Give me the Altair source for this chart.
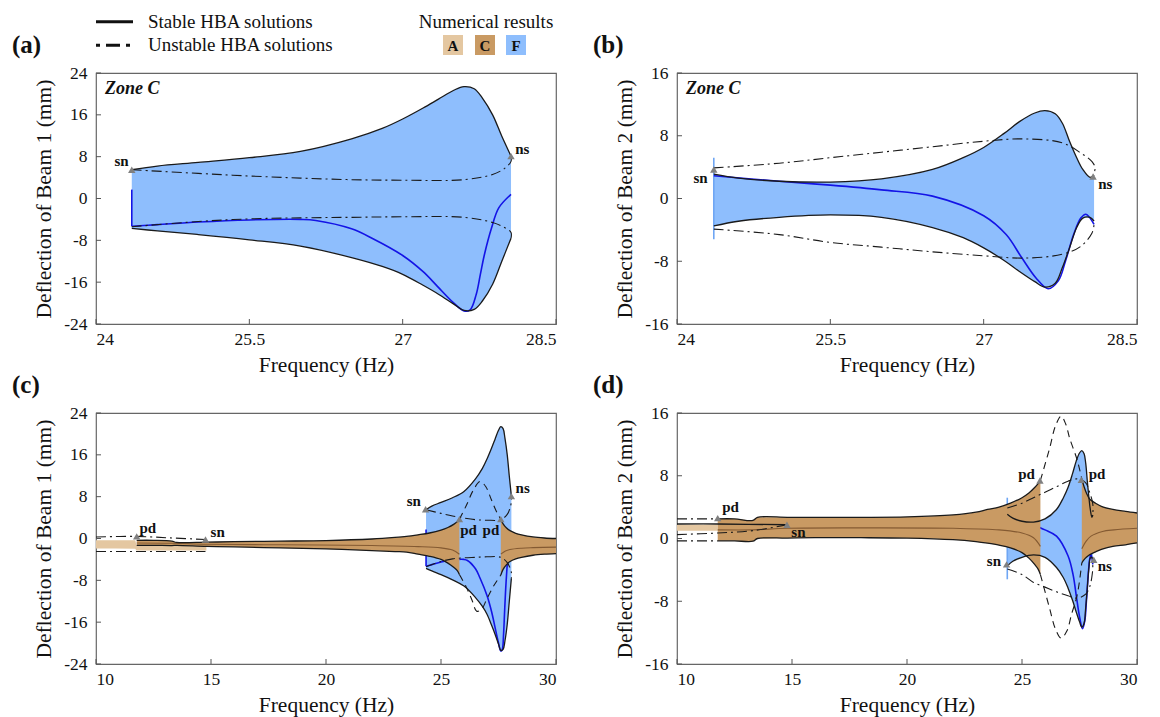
import altair as alt
import pandas as pd

# ---------------------------------------------------------------- data
# Beam 1, zone C (panels a and c): stable HBA envelope (upper / lower)
B1_F = [24.35, 24.6, 25.0, 25.5, 26.0, 26.5, 26.8, 27.0, 27.2, 27.35, 27.5, 27.6, 27.7, 27.78, 27.88, 27.97, 28.06]
B1_UP = [5.5, 6.2, 6.9, 7.8, 9.0, 11.4, 13.4, 15.2, 17.3, 19.0, 20.7, 21.4, 21.0, 19.2, 16.0, 11.9, 8.1]
B1_LO = [-5.7, -6.2, -6.9, -7.9, -9.1, -11.3, -13.0, -14.5, -16.6, -18.3, -20.2, -21.4, -21.2, -19.6, -16.4, -12.0, -7.6]
# Beam 1 unstable HBA branches (zone C)
B1_UU_F = [24.35, 25.0, 25.5, 26.0, 26.5, 27.0, 27.6, 27.88, 28.0, 28.06, 28.06]
B1_UU_V = [5.5, 4.8, 4.3, 3.9, 3.6, 3.5, 3.6, 4.6, 5.8, 7.1, 8.1]
B1_UL_F = [24.35, 25.0, 25.5, 26.0, 26.5, 27.0, 27.6, 27.88, 28.0, 28.06, 28.06]
B1_UL_V = [-5.4, -4.4, -3.9, -3.7, -3.6, -3.5, -3.6, -4.6, -5.6, -6.5, -7.6]
# Beam 1 numerical (blue) mean line and its start transient
B1_N_F = [24.35, 24.6, 25.0, 25.5, 26.0, 26.15, 26.5, 26.7, 27.0, 27.2, 27.34, 27.49, 27.6, 27.66, 27.72, 27.76, 27.8, 27.87, 27.94, 28.06]
B1_N_V = [-5.3, -5.0, -4.5, -4.1, -4.0, -4.2, -5.8, -7.6, -10.9, -14.0, -16.8, -19.8, -21.5, -21.3, -18.3, -14.5, -10.7, -5.6, -1.8, 0.8]
B1_T_F = [24.35, 24.35]
B1_T_V = [1.7, -5.3]

# Beam 2, zone C (panels b and d)
B2_F = [24.36, 24.6, 25.0, 25.5, 26.0, 26.5, 26.8, 27.0, 27.2, 27.35, 27.5, 27.6, 27.7, 27.77, 27.84, 27.91, 27.97, 28.04, 28.08]
B2_UP = [3.1, 2.6, 2.2, 2.1, 2.5, 3.7, 5.2, 6.5, 8.3, 9.8, 10.9, 11.2, 10.8, 9.6, 7.3, 5.2, 3.7, 2.7, 3.0]
B2_LO = [-3.5, -2.9, -2.4, -2.1, -2.4, -3.7, -5.0, -6.3, -7.9, -9.3, -10.6, -11.3, -10.8, -8.8, -6.3, -3.7, -2.5, -2.4, -2.9]
B2_UU_F = [24.36, 25.0, 25.5, 26.0, 26.5, 27.0, 27.4, 27.77, 27.95, 28.06, 28.09, 28.07]
B2_UU_V = [3.9, 4.5, 5.2, 5.9, 6.6, 7.3, 7.6, 7.1, 5.8, 4.7, 3.9, 2.9]
B2_UL_F = [24.36, 25.0, 25.5, 26.0, 26.5, 27.0, 27.4, 27.77, 27.95, 28.06, 28.08]
B2_UL_V = [-3.9, -4.6, -5.6, -6.2, -6.8, -7.3, -7.6, -7.1, -6.1, -4.4, -3.3]
B2_N_F = [24.36, 25.0, 25.5, 26.0, 26.5, 27.0, 27.22, 27.37, 27.51, 27.63, 27.73, 27.8, 27.88, 27.95, 28.0, 28.08]
B2_N_V = [2.9, 2.2, 1.7, 1.1, 0.3, -2.2, -4.6, -7.5, -10.1, -11.5, -10.5, -8.0, -4.6, -2.5, -2.0, -3.3]
B2_T_F = [24.36, 24.36]
B2_T_V = [5.2, -5.2]

# Zone C (period-1 brown) bands, full frequency sweep
CL_F = [11.77, 12.5, 13.3, 13.5, 14.8, 16, 18, 20, 22, 23, 23.5, 24, 24.5, 25.0, 25.3, 25.55, 25.7, 25.8]
C1L_UP = [-0.35, -0.35, -0.5, -0.75, -0.7, -0.6, -0.5, -0.4, -0.1, 0.2, 0.4, 0.7, 1.05, 1.6, 2.1, 2.7, 3.2, 3.7]
C1L_LO = [-1.3, -1.3, -1.35, -1.3, -1.5, -1.6, -1.8, -2.0, -2.3, -2.5, -2.6, -3.0, -3.4, -4.0, -4.7, -5.5, -6.1, -6.9]
C2L_UP = [2.5, 2.5, 2.3, 2.7, 2.7, 2.7, 2.7, 2.75, 3.0, 3.35, 3.7, 4.0, 4.5, 5.2, 5.8, 6.5, 7.0, 7.4]
C2L_LO = [-0.3, -0.3, -0.35, 0.0, 0.05, 0.1, 0.1, 0.05, -0.15, -0.4, -0.6, -0.85, -1.2, -1.8, -2.5, -3.3, -3.9, -4.6]
C1R_F = [27.6, 27.7, 27.85, 28.0, 28.25, 28.5, 29.0, 29.5, 30.0]
C1R_UP = [3.7, 2.8, 2.0, 1.5, 1.0, 0.7, 0.3, 0.1, 0.0]
C1R_LO = [-7.0, -5.9, -5.0, -4.4, -3.9, -3.6, -3.2, -3.0, -2.9]
C2R_F = [27.6, 27.7, 27.8, 27.95, 28.2, 28.45, 28.95, 29.5, 30.0]
C2R_UP = [7.6, 6.6, 5.8, 5.0, 4.5, 4.1, 3.7, 3.45, 3.25]
C2R_LO = [-3.1, -2.7, -2.4, -2.06, -1.7, -1.4, -1.0, -0.8, -0.57]
# brown mean lines
M_L_F = [11.77, 13.3, 14.8, 18, 22, 24, 25, 25.5, 25.8]
M1L_V = [-0.85, -0.9, -1.1, -1.2, -1.35, -1.55, -1.8, -2.2, -3.0]
M2L_V = [1.1, 1.1, 1.3, 1.35, 1.3, 1.1, 0.7, 0.1, -1.0]
M_R_F = [27.6, 27.8, 28.0, 28.5, 29, 30]
M1R_V = [-3.0, -2.4, -2.1, -1.85, -1.75, -1.65]
M2R_V = [-1.3, -0.3, 0.3, 0.9, 1.1, 1.3]
# Zone A (light tan) bands
A1_F = [10, 11.7, 11.77, 13.3, 14.8]
A1_UP = [-0.35, -0.35, -1.3, -1.35, -1.5]
A1_LO = [-1.9, -1.95, -2.3, -2.3, -2.3]
A2_F = [10, 11.77]
A2_UP = [1.8, 1.8]
A2_LO = [1.0, 1.0]
# unstable period-1 branches between the pd points
P1U_F = [25.8, 26.1, 26.4, 26.7, 26.95, 27.2, 27.45, 27.6]
P1U_V = [3.7, 6.3, 9.2, 10.9, 9.9, 7.3, 4.8, 3.7]
P1L_F = [25.8, 26.1, 26.35, 26.55, 26.75, 27.0, 27.3, 27.6]
P1L_V = [-6.9, -9.3, -11.8, -13.9, -13.6, -11.5, -9.0, -7.0]
P2U_F = [25.8, 26.2, 26.45, 26.7, 26.9, 27.07, 27.4, 27.6]
P2U_V = [7.4, 11.5, 14.3, 15.6, 14.6, 12.8, 10.0, 7.6]
P2L_F = [25.8, 26.2, 26.45, 26.7, 26.95, 27.15, 27.4, 27.6]
P2L_V = [-4.6, -8.9, -11.5, -12.7, -11.8, -9.7, -7.2, -3.1]
# low-frequency unstable branches
LD1a_F, LD1a_V = [10, 11.77, 13.3, 14.76], [0.3, 0.4, 0.1, -0.2]
LD1b_F, LD1b_V = [10, 14.76], [-2.5, -2.5]
LD2a_F, LD2a_V = [10, 11.77], [2.5, 2.5]
LD2b_F, LD2b_V = [10, 11.77, 13.3, 14.78], [0.5, 0.7, 1.0, 1.75]
LD2c_F, LD2c_V = [10, 11.77], [-0.3, -0.3]
LS2_F, LS2_V = [10, 11.77, 14.78], [1.85, 1.85, 1.75]

# bifurcation points and their labels
PT_A_F, PT_A_V = [24.35, 28.06], [5.5, 8.1]
LB_A = ["sn", "ns"]; LB_A_F = [24.25, 28.17]; LB_A_V = [7.1, 9.5]
PT_B_F, PT_B_V = [24.36, 28.07], [3.7, 2.8]
LB_B = ["sn", "ns"]; LB_B_F = [24.23, 28.19]; LB_B_V = [2.6, 1.9]
PT_C_F = [11.77, 14.76, 24.33, 25.8, 27.6, 28.06]
PT_C_V = [0.4, -0.2, 5.6, 3.7, 3.7, 8.1]
LB_C = ["pd", "sn", "sn", "pd", "pd", "ns"]
LB_C_F = [12.25, 15.29, 23.82, 26.2, 27.17, 28.55]
LB_C_V = [2.1, 1.2, 7.1, 1.7, 1.7, 9.7]
PT_D_F = [11.77, 14.78, 25.78, 27.58, 24.33, 28.12]
PT_D_V = [2.6, 1.75, 7.4, 7.5, -3.3, -2.7]
LB_D = ["pd", "sn", "pd", "pd", "sn", "ns"]
LB_D_F = [12.33, 15.28, 25.2, 28.26, 23.78, 28.6]
LB_D_V = [4.0, 0.83, 8.2, 8.2, -2.9, -3.5]

# axes
XT_ZOOM = [24, 25.5, 27, 28.5]
XT_FULL = [10, 15, 20, 25, 30]
YT_B1 = [-24, -16, -8, 0, 8, 16, 24]
YT_B2 = [-16, -8, 0, 8, 16]

# ---------------------------------------------------------------- style
FONT = "Liberation Serif"
W, H = 460, 251
C_A = "#E4C7A1"
C_C = "#C99A63"
C_F = "#8EBEFD"
BLUE = "#1414E6"
BROWN = "#845A32"
GRAY = "#808080"
DASHDOT = [10, 4, 2, 4]
DASHED = [7, 5]


def line_df(series):
    rows = []
    for name, fs, vs in series:
        for i, (f, v) in enumerate(zip(fs, vs)):
            rows.append({"s": name, "i": i, "f": f, "v": v})
    return pd.DataFrame(rows)


def band_df(series):
    rows = []
    for name, fs, ups, los in series:
        for f, u, l in zip(fs, ups, los):
            rows.append({"s": name, "f": f, "up": u, "lo": l})
    return pd.DataFrame(rows)


def panel(xdom, xticks, ydom, yticks, ytitle, fF, trans, blue, fA, fC, brown,
          solid, dashdot, dashed, pts, labels, tag, zone=False, legend=False):
    xs = alt.Scale(domain=xdom, nice=False, zero=False)
    ys = alt.Scale(domain=ydom, nice=False, zero=False)
    xax = alt.Axis(values=xticks, title="Frequency (Hz)", labelExpr="'' + datum.value",
                   labelPadding=6, titleY=41, titleBaseline="middle")
    yax = alt.Axis(values=yticks, title=ytitle, labelExpr="'' + datum.value",
                   labelPadding=9, titleX=-52, titleY=H / 2, titleAngle=270,
                   titleBaseline="middle", titleAlign="center")

    def X(field="f"):
        return alt.X(field + ":Q", scale=xs, axis=xax)

    def Y(field="v"):
        return alt.Y(field + ":Q", scale=ys, axis=yax)

    def band(series, color):
        return alt.Chart(band_df(series)).mark_area(
            color=color, opacity=1, interpolate="monotone").encode(
            x=X(), y=Y("up"), y2=alt.Y2("lo:Q"), detail="s:N")

    def lines(series, color, width, dash=None, interp="catmull-rom"):
        kw = dict(color=color, strokeWidth=width, interpolate=interp)
        if dash:
            kw["strokeDash"] = dash
        return alt.Chart(line_df(series)).mark_line(**kw).encode(
            x=X(), y=Y(), detail="s:N", order="i:Q")

    layers = []
    one = pd.DataFrame({"k": [0]})
    if legend:
        layers.append(alt.Chart(one).mark_rect(color="white").encode(
            x=alt.value(-95), x2=alt.value(-94), y=alt.value(-72), y2=alt.value(-71)))
    layers.append(band(fF, C_F))
    tcol, tser = trans
    layers.append(lines(tser, tcol, 1.6, interp="linear"))
    layers.append(lines(blue, BLUE, 1.6))
    if fA:
        layers.append(band(fA, C_A))
    if fC:
        layers.append(band(fC, C_C))
    if brown:
        layers.append(lines(brown, BROWN, 1.1))
    layers.append(lines(solid, "#1a1a1a", 1.3))
    layers.append(lines(dashdot, "#1a1a1a", 1.1, DASHDOT))
    if dashed:
        layers.append(lines(dashed, "#1a1a1a", 1.1, DASHED))
    # inward ticks
    layers.append(alt.Chart(pd.DataFrame({"t": xticks})).mark_rule(color="#555", strokeWidth=1).encode(
        x=alt.X("t:Q", scale=xs, axis=xax), y=alt.value(H - 5), y2=alt.value(H)))
    layers.append(alt.Chart(pd.DataFrame({"t": yticks})).mark_rule(color="#555", strokeWidth=1).encode(
        y=alt.Y("t:Q", scale=ys, axis=yax), x=alt.value(0), x2=alt.value(5)))
    # bifurcation markers
    pf, pv = pts
    layers.append(alt.Chart(pd.DataFrame({"f": pf, "v": pv})).mark_point(
        shape="triangle-up", filled=True, color=GRAY, size=55, opacity=1).encode(x=X(), y=Y()))
    lt, lf, lv = labels
    layers.append(alt.Chart(pd.DataFrame({"t": lt, "f": lf, "v": lv})).mark_text(
        font=FONT, fontSize=15, fontWeight="bold", color="#111", baseline="middle").encode(
        x=X(), y=Y(), text="t:N"))
    if zone:
        layers.append(alt.Chart(one).mark_text(
            x=9, y=16, text="Zone C", align="left", baseline="middle", font=FONT,
            fontSize=18, fontStyle="italic", fontWeight="bold", color="#111"))
    layers.append(alt.Chart(one).mark_text(
        x=-84, y=-28, text=tag, align="left", baseline="middle", font=FONT,
        fontSize=25, fontWeight="bold", color="#111"))
    if legend:
        layers.append(alt.Chart(one).mark_rule(color="#111", strokeWidth=3).encode(
            x=alt.value(0), x2=alt.value(37), y=alt.value(-51.3)))
        layers.append(alt.Chart(one).mark_rule(color="#111", strokeWidth=3,
                                               strokeDash=[4, 6, 14, 6, 4, 40]).encode(
            x=alt.value(0), x2=alt.value(37), y=alt.value(-27.7)))
        for txt, yy in [("Stable HBA solutions", -51.5), ("Unstable HBA solutions", -27.7)]:
            layers.append(alt.Chart(one).mark_text(
                x=52, y=yy, text=txt, align="left", baseline="middle", font=FONT,
                fontSize=19, color="#111"))
        layers.append(alt.Chart(one).mark_text(
            x=390, y=-51.5, text="Numerical results", align="center", baseline="middle",
            font=FONT, fontSize=19, color="#111"))
        for cx, col, letter in [(357, C_A, "A"), (389, C_C, "C"), (420, C_F, "F")]:
            layers.append(alt.Chart(one).mark_rect(color=col).encode(
                x=alt.value(cx - 10), x2=alt.value(cx + 10), y=alt.value(-38), y2=alt.value(-18)))
            layers.append(alt.Chart(one).mark_text(
                x=cx, y=-27.5, text=letter, align="center", baseline="middle", font=FONT,
                fontSize=15, fontWeight="bold", color="#111"))
    return alt.layer(*layers).properties(width=W, height=H)


T1 = (BLUE, [("t", B1_T_F, B1_T_V)])
T2 = ("#6FA6F4", [("t", B2_T_F, B2_T_V)])

pa = panel([24, 28.5], XT_ZOOM, [-24, 24], YT_B1, "Deflection of Beam 1 (mm)",
           [("F", B1_F, B1_UP, B1_LO)], T1, [("n", B1_N_F, B1_N_V)], None, None, None,
           [("u", B1_F, B1_UP), ("l", B1_F, B1_LO)],
           [("uu", B1_UU_F, B1_UU_V), ("ul", B1_UL_F, B1_UL_V)], None,
           (PT_A_F, PT_A_V), (LB_A, LB_A_F, LB_A_V), "(a)", zone=True, legend=True)

pb = panel([24, 28.5], XT_ZOOM, [-16, 16], YT_B2, "Deflection of Beam 2 (mm)",
           [("F", B2_F, B2_UP, B2_LO)], T2, [("n", B2_N_F, B2_N_V)], None, None, None,
           [("u", B2_F, B2_UP), ("l", B2_F, B2_LO)],
           [("uu", B2_UU_F, B2_UU_V), ("ul", B2_UL_F, B2_UL_V)], None,
           (PT_B_F, PT_B_V), (LB_B, LB_B_F, LB_B_V), "(b)", zone=True)

pc = panel([10, 30], XT_FULL, [-24, 24], YT_B1, "Deflection of Beam 1 (mm)",
           [("F", B1_F, B1_UP, B1_LO)], T1, [("n", B1_N_F, B1_N_V)],
           [("A", A1_F, A1_UP, A1_LO)],
           [("CL", CL_F, C1L_UP, C1L_LO), ("CR", C1R_F, C1R_UP, C1R_LO)],
           [("ml", M_L_F, M1L_V), ("mr", M_R_F, M1R_V)],
           [("u", B1_F, B1_UP), ("l", B1_F, B1_LO), ("clu", CL_F, C1L_UP), ("cll", CL_F, C1L_LO),
            ("cru", C1R_F, C1R_UP), ("crl", C1R_F, C1R_LO)],
           [("uu", B1_UU_F, B1_UU_V), ("ul", B1_UL_F, B1_UL_V), ("la", LD1a_F, LD1a_V), ("lb", LD1b_F, LD1b_V)],
           [("pu", P1U_F, P1U_V), ("pl", P1L_F, P1L_V)],
           (PT_C_F, PT_C_V), (LB_C, LB_C_F, LB_C_V), "(c)")

pd_ = panel([10, 30], XT_FULL, [-16, 16], YT_B2, "Deflection of Beam 2 (mm)",
            [("F", B2_F, B2_UP, B2_LO)], T2, [("n", B2_N_F, B2_N_V)],
            [("A", A2_F, A2_UP, A2_LO)],
            [("CL", CL_F, C2L_UP, C2L_LO), ("CR", C2R_F, C2R_UP, C2R_LO)],
            [("ml", M_L_F, M2L_V), ("mr", M_R_F, M2R_V)],
            [("u", B2_F, B2_UP), ("l", B2_F, B2_LO), ("clu", CL_F, C2L_UP), ("cll", CL_F, C2L_LO),
             ("cru", C2R_F, C2R_UP), ("crl", C2R_F, C2R_LO), ("ls", LS2_F, LS2_V)],
            [("uu", B2_UU_F, B2_UU_V), ("ul", B2_UL_F, B2_UL_V), ("la", LD2a_F, LD2a_V),
             ("lb", LD2b_F, LD2b_V), ("lc", LD2c_F, LD2c_V)],
            [("pu", P2U_F, P2U_V), ("pl", P2L_F, P2L_V)],
            (PT_D_F, PT_D_V), (LB_D, LB_D_F, LB_D_V), "(d)")

chart = alt.concat(pa, pb, pc, pd_, columns=2, spacing={"row": 89, "column": 121},
                   bounds="flush").resolve_scale(x="independent", y="independent").properties(
    padding={"left": 0, "top": 0, "right": 4, "bottom": 4}, background="white"
).configure_view(stroke="#666", strokeWidth=1.2).configure_axis(
    labelFont=FONT, labelFontSize=17.5, labelColor="#111", titleFont=FONT,
    titleFontSize=21.5, titleFontWeight="normal", titleColor="#111",
    domain=False, ticks=False, grid=False
)

chart.save("out.html", embed_options={"renderer": "svg", "actions": False})
